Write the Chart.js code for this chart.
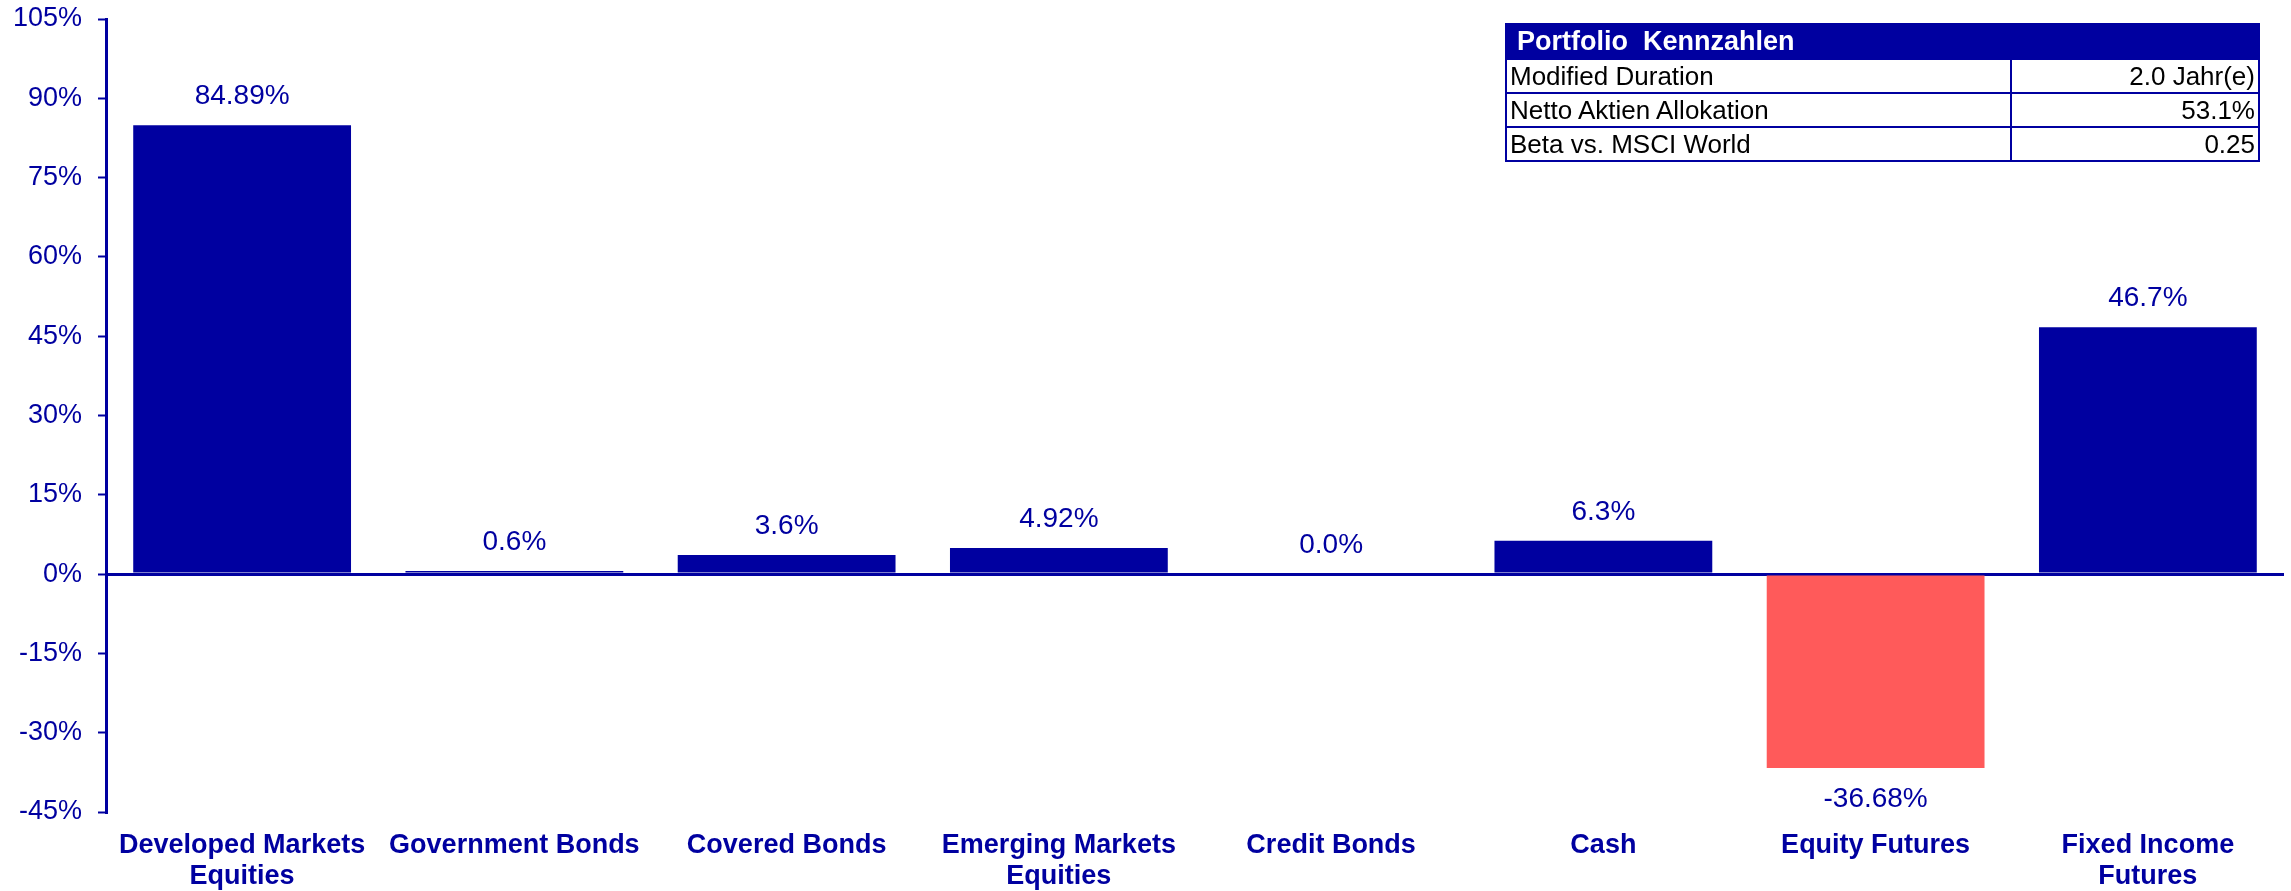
<!DOCTYPE html>
<html>
<head>
<meta charset="utf-8">
<title>Portfolio Allokation</title>
<script src="https://cdn.jsdelivr.net/npm/chart.js@4/dist/chart.umd.min.js"></script>
<style>
    html, body { margin: 0; padding: 0; background: #fff; }
    #wrap { position: relative; width: 2291px; height: 891px; }
    #kennzahlen {
        position: absolute; left: 1505px; top: 23px; width: 755px;
        border-collapse: collapse; font-family: "Liberation Sans Narrow", "Liberation Sans", Arial, sans-serif;
        font-size: 26px; color: #000;
    }
    #kennzahlen td { border: 2px solid #0000a0; padding: 0 3px; height: 32px; line-height: 32px; }
    #kennzahlen th {
        background: #0000a0; color: #fff; text-align: left; font-weight: bold; white-space: pre;
        font-family: "Liberation Sans", Arial, sans-serif;
        padding: 0 10px; height: 33px; border: 2px solid #0000a0; font-size: 27px;
    }
    #kennzahlen td.val { text-align: right; width: 240px; }
</style>
</head>
<body>
<div id="wrap">
    <canvas id="myChart" width="2291" height="891"></canvas>
    <table id="kennzahlen"></table>
</div>
<script>
const navy = '#0000a0';
const red = '#ff5a5a';

const categories = [
    ['Developed Markets', 'Equities'],
    'Government Bonds',
    'Covered Bonds',
    ['Emerging Markets', 'Equities'],
    'Credit Bonds',
    'Cash',
    'Equity Futures',
    ['Fixed Income', 'Futures']
];
const allocation = [84.89, 0.6, 3.6, 4.92, 0.0, 6.3, -36.68, 46.7];
const decimals = [2, 1, 1, 2, 1, 1, 2, 1];

const yMin = -45;
const yMax = 105;
const yStep = 15;

const tableTitle = 'Portfolio  Kennzahlen';
const tableLabels = ['Modified Duration', 'Netto Aktien Allokation', 'Beta vs. MSCI World'];
const tableValues = ['2.0 Jahr(e)', '53.1%', '0.25'];

// key figures box in the top right corner
const table = document.getElementById('kennzahlen');
table.innerHTML = '<tr><th colspan="2">' + tableTitle + '</th></tr>' +
    tableLabels.map((l, i) => '<tr><td>' + l + '</td><td class="val">' + tableValues[i] + '</td></tr>').join('');

// value labels above positive bars, below negative ones
const valueLabels = {
    id: 'valueLabels',
    afterDatasetsDraw(chart) {
        const ctx = chart.ctx;
        const meta = chart.getDatasetMeta(0);
        ctx.save();
        ctx.font = '28px "Liberation Sans", Arial, sans-serif';
        ctx.fillStyle = navy;
        ctx.textAlign = 'center';
        ctx.textBaseline = 'middle';
        meta.data.forEach((bar, i) => {
            const v = allocation[i];
            const text = v.toFixed(decimals[i]) + '%';
            const y = v < 0 ? bar.y + 31 : bar.y - 29;
            ctx.fillText(text, bar.x, y);
        });
        ctx.restore();
    }
};

const ctx = document.getElementById('myChart').getContext('2d');
new Chart(ctx, {
    type: 'bar',
    data: {
        labels: categories,
        datasets: [{
            data: allocation,
            backgroundColor: allocation.map(v => v < 0 ? red : navy),
            borderWidth: 0,
            barPercentage: 0.8,
            categoryPercentage: 1.0
        }]
    },
    options: {
        responsive: false,
        animation: false,
        layout: { padding: { top: 19, right: 7, left: 0, bottom: 0 } },
        plugins: {
            legend: { display: false },
            tooltip: { enabled: false }
        },
        scales: {
            x: {
                grid: { display: false, drawTicks: false },
                border: { display: false },
                ticks: {
                    color: navy,
                    font: { family: '"Liberation Sans", Arial, sans-serif', size: 27, weight: 'bold', lineHeight: 1.15 },
                    padding: 18,
                    maxRotation: 0,
                    autoSkip: false
                },
                afterFit: s => { s.height = 79; }
            },
            y: {
                min: yMin,
                max: yMax,
                ticks: {
                    stepSize: yStep,
                    color: navy,
                    font: { family: '"Liberation Sans", Arial, sans-serif', size: 27 },
                    padding: 16,
                    callback: v => v + '%'
                },
                grid: {
                    color: c => c.tick && c.tick.value === 0 ? navy : 'transparent',
                    lineWidth: 3,
                    tickColor: navy,
                    tickWidth: 2,
                    tickLength: 8
                },
                border: { display: true, color: navy, width: 3 },
                afterFit: s => {
                    s.width = 106;
                    s.paddingTop = 0;
                    s.paddingBottom = 0;
                }
            }
        }
    },
    plugins: [valueLabels]
});
</script>
</body>
</html>
